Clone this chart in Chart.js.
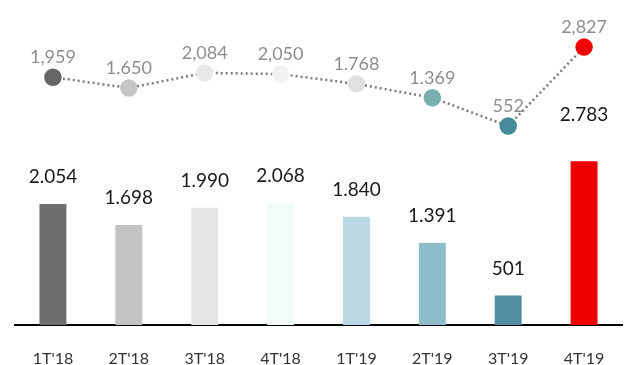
<!DOCTYPE html>
<html>
<head>
<meta charset="utf-8">
<script src="https://cdn.jsdelivr.net/npm/chart.js@4.4.1/dist/chart.umd.min.js"></script>
<style>
  html, body { margin: 0; padding: 0; background: #fff; }
  canvas { display: block; }
</style>
</head>
<body>
<canvas id="resultsChart" width="632" height="365"></canvas>
<script>
const quarters = ["1T'18", "2T'18", "3T'18", "4T'18", "1T'19", "2T'19", "3T'19", "4T'19"];

// bars: quarterly figure
const barValues = [2054, 1698, 1990, 2068, 1840, 1391, 501, 2783];
const barColors = ['#6e6e6e', '#c3c3c3', '#e5e5e5', '#f3fafa', '#b9d8e4', '#8dbccb', '#4e8e9f', '#ee0000'];

// dotted line on top
const lineValues = [1959, 1650, 2084, 2050, 1768, 1369, 552, 2827];
const lineSeparators = [',', '.', ',', ',', '.', '.', '', ','];
const pointColors = ['#666666', '#c6c6c6', '#e8e8e8', '#f1f1f1', '#e0e0e0', '#78b1ad', '#468b99', '#f20000'];

function withSep(v, sep) {
    const s = String(v);
    if (s.length <= 3) return s;
    return s.slice(0, s.length - 3) + sep + s.slice(s.length - 3);
}

const valueLabels = {
    id: 'valueLabels',
    afterDatasetsDraw(chart) {
        const ctx = chart.ctx;
        ctx.save();
        ctx.textAlign = 'center';
        ctx.textBaseline = 'alphabetic';

        // bar values, Spanish style thousands
        ctx.font = '19px Lato';
        ctx.fillStyle = '#1a1a1a';
        chart.getDatasetMeta(0).data.forEach((bar, i) => {
            const lift = i === barValues.length - 1 ? 40 : 21;
            ctx.fillText(withSep(barValues[i], '.'), bar.x, bar.y - lift);
        });

        // line values
        ctx.font = '18px Lato';
        ctx.fillStyle = '#8e8e8e';
        chart.getDatasetMeta(1).data.forEach((pt, i) => {
            ctx.fillText(withSep(lineValues[i], lineSeparators[i]), pt.x, pt.y - 14);
        });
        ctx.restore();
    }
};

Chart.defaults.font.family = 'Lato';

new Chart(document.getElementById('resultsChart').getContext('2d'), {
    type: 'bar',
    data: {
        labels: quarters,
        datasets: [
            {
                type: 'bar',
                data: barValues,
                backgroundColor: barColors,
                categoryPercentage: 1,
                barPercentage: 0.355,
                yAxisID: 'y',
                order: 2,
            },
            {
                type: 'line',
                data: lineValues,
                borderColor: '#7a7a7a',
                borderWidth: 2.5,
                borderDash: [2, 3],
                pointBackgroundColor: pointColors,
                pointBorderColor: pointColors,
                pointRadius: 7.5,
                tension: 0,
                yAxisID: 'y2',
                order: 1,
            },
        ],
    },
    options: {
        responsive: false,
        animation: false,
        devicePixelRatio: 1,
        layout: { padding: { left: 15, right: 9, top: 0, bottom: 0 } },
        plugins: {
            legend: { display: false },
            tooltip: { enabled: false },
        },
        scales: {
            x: {
                grid: { display: false, drawTicks: false },
                border: { display: true, color: '#000', width: 2 },
                ticks: { color: '#333', font: { size: 16 }, padding: 24, maxRotation: 0 },
                afterFit(scale) { scale.height = 40; },
            },
            y: { display: false, min: 0, max: 5350 },
            y2: { display: false, min: -5180, max: 3896 },
        },
    },
    plugins: [valueLabels],
});
</script>
</body>
</html>
